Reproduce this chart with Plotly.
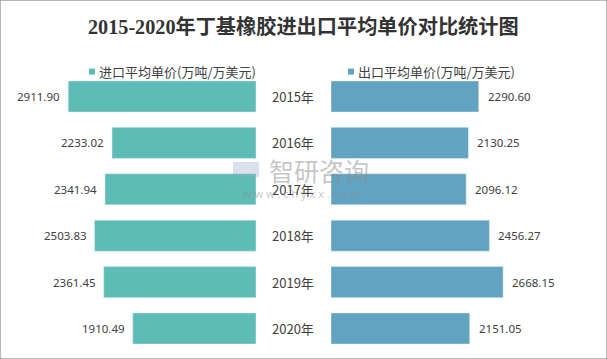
import plotly.graph_objects as go

years = ["2015年", "2016年", "2017年", "2018年", "2019年", "2020年"]
import_price = [2911.90, 2233.02, 2341.94, 2503.83, 2361.45, 1910.49]
export_price = [2290.60, 2130.25, 2096.12, 2456.27, 2668.15, 2151.05]
import_name = "进口平均单价(万吨/万美元)"
export_name = "出口平均单价(万吨/万美元)"
title_text = "2015-2020年丁基橡胶进出口平均单价对比统计图"

W, H = 607, 359
teal = "#5DBCB6"
blue = "#62A3C2"
num_font = dict(family="Noto Sans, Noto Sans CJK SC", size=11.5, color="#404040")
year_font = dict(family="Noto Sans CJK SC, Noto Sans", size=13, color="#404040")
leg_font = dict(family="Noto Sans CJK SC, Noto Sans", size=13, color="#404040")

scale = 0.0645  # px per unit
left_end = 256
right_start = 331

fig = go.Figure()
fig.add_trace(go.Bar(y=years, x=import_price, orientation="h", marker_color=teal,
                     name=import_name, xaxis="x", yaxis="y", showlegend=False,
                     hoverinfo="x+y"))
fig.add_trace(go.Bar(y=years, x=export_price, orientation="h", marker_color=blue,
                     name=export_name, xaxis="x2", yaxis="y2", showlegend=False,
                     hoverinfo="x+y"))

ydom = [(H - 351.7) / H, (H - 73.3) / H]
fig.update_layout(
    width=W, height=H,
    margin=dict(l=0, r=0, t=0, b=0),
    paper_bgcolor="white", plot_bgcolor="white",
    bargap=0.33,
    xaxis=dict(domain=[0, left_end / W], range=[left_end / scale, 0], visible=False,
               fixedrange=True),
    xaxis2=dict(domain=[right_start / W, 1], range=[0, (W - right_start) / scale],
                visible=False, fixedrange=True),
    yaxis=dict(domain=ydom, autorange="reversed", visible=False, anchor="x"),
    yaxis2=dict(domain=ydom, autorange="reversed", visible=False, anchor="x2",
                matches="y"),
    showlegend=False,
)

annotations = []
# title
annotations.append(dict(text="<b>" + title_text + "</b>", x=0.5, y=1 - 27 / H,
                        xref="paper", yref="paper", showarrow=False,
                        xanchor="center", yanchor="middle",
                        font=dict(family="Liberation Serif, Noto Sans CJK SC", size=20.2,
                                  color="#333333")))
# legends
shapes = []
leg_y = 1 - 71.6 / H
for xm, name, col in [(92, import_name, teal), (351, export_name, blue)]:
    shapes.append(dict(type="rect", xref="paper", yref="paper",
                       x0=(xm - 3) / W, x1=(xm + 3) / W,
                       y0=leg_y - 3 / H, y1=leg_y + 3 / H,
                       fillcolor=col, line=dict(width=0)))
    annotations.append(dict(text=name, x=(xm + 5) / W, y=leg_y, xref="paper",
                            yref="paper", showarrow=False, xanchor="left",
                            yanchor="middle", font=leg_font))
# year labels
for yr in years:
    annotations.append(dict(text=yr, x=293 / W, y=yr, xref="paper", yref="y",
                            showarrow=False, xanchor="center", yanchor="middle",
                            font=year_font))
# value labels
for yr, v in zip(years, import_price):
    annotations.append(dict(text=f"{v:.2f}", x=v, y=yr, xref="x", yref="y",
                            showarrow=False, xanchor="right", yanchor="middle",
                            xshift=-6, font=num_font))
for yr, v in zip(years, export_price):
    annotations.append(dict(text=f"{v:.2f}", x=v, y=yr, xref="x2", yref="y2",
                            showarrow=False, xanchor="left", yanchor="middle",
                            xshift=7, font=num_font))
# watermark
annotations.append(dict(text="智研咨询", x=319 / W, y=1 - 170 / H, xref="paper",
                        yref="paper", showarrow=False, xanchor="center",
                        yanchor="middle",
                        font=dict(family="Noto Sans CJK SC", size=25,
                                  color="rgba(140,140,140,0.5)")))
annotations.append(dict(text="w w w . c h y x x . c o m", x=302 / W, y=1 - 193 / H,
                        xref="paper", yref="paper", showarrow=False,
                        xanchor="center", yanchor="middle",
                        font=dict(family="Noto Sans", size=11,
                                  color="rgba(140,140,140,0.5)")))
shapes.append(dict(type="rect", xref="paper", yref="paper",
                   x0=233 / W, x1=259 / W, y0=1 - 177 / H, y1=1 - 162 / H,
                   fillcolor="rgba(150,170,200,0.35)", line=dict(width=0)))
# border
shapes.append(dict(type="rect", xref="paper", yref="paper", x0=0, x1=1, y0=0, y1=1,
                   line=dict(color="#A0A0A0", width=1.5), fillcolor="rgba(0,0,0,0)"))

fig.update_layout(annotations=annotations, shapes=shapes)
fig.write_html("out.html", config={"displayModeBar": False},
               post_script="document.body.style.margin='0';"
                           "document.body.style.overflow='hidden';")
